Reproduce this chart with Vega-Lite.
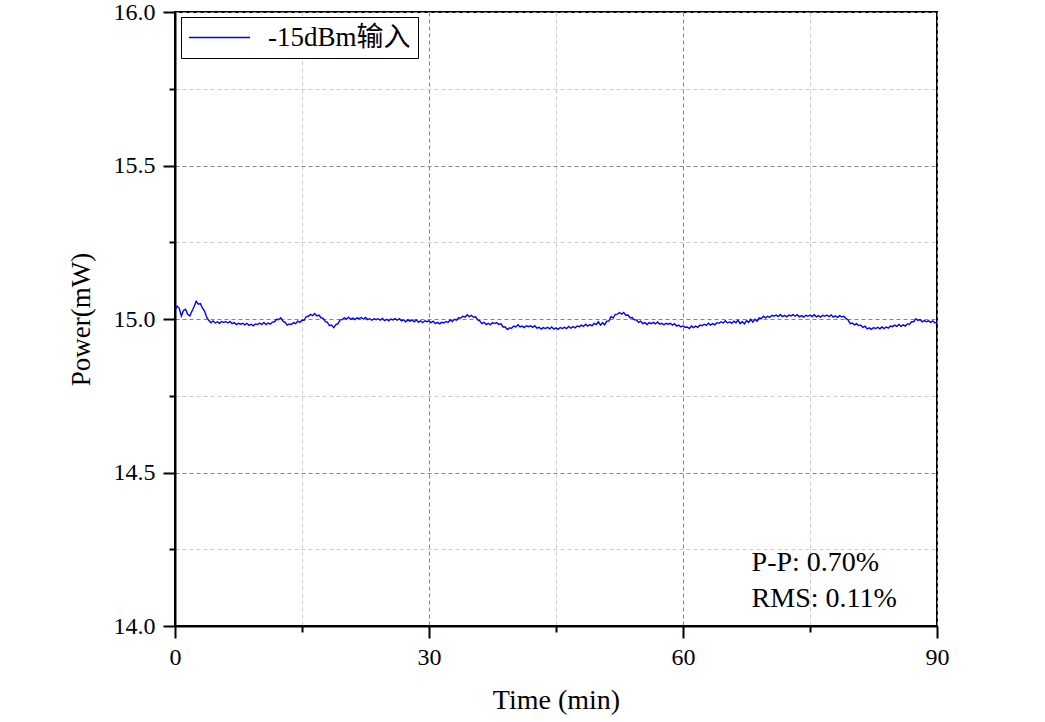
{
"$schema": "https://vega.github.io/schema/vega-lite/v6.json",
"width": 762, "height": 614,
"autosize": "none",
"padding": {"left": 175, "top": 12, "right": 108, "bottom": 96},
"background": "white",
"config": {
  "view": {"stroke": "black", "strokeWidth": 2},
  "font": "Liberation Serif, Noto Sans CJK SC",
  "axis": {"labelFont": "Liberation Serif", "titleFont": "Liberation Serif", "titleFontWeight": "normal", "labelColor": "black", "titleColor": "black", "domainColor": "black", "domainWidth": 2, "tickColor": "black", "tickWidth": 2, "gridWidth": 1, "labelFontSize": 24}
},
"layer": [
{
  "data": {"values": [
{"t":0,"p":15.030},{"t":0.25,"p":15.042},{"t":0.5,"p":15.035},{"t":0.75,"p":15.010},{"t":1,"p":15.028},{"t":1.25,"p":15.032},{"t":1.5,"p":15.015},{"t":1.75,"p":15.010},
{"t":2,"p":15.025},{"t":2.25,"p":15.040},{"t":2.5,"p":15.058},{"t":2.75,"p":15.048},{"t":3,"p":15.050},{"t":3.25,"p":15.035},{"t":3.5,"p":15.025},{"t":3.75,"p":15.005},
{"t":4,"p":14.995},{"t":4.25,"p":14.988},{"t":4.5,"p":14.994},{"t":4.75,"p":14.987},{"t":5,"p":14.991},{"t":5.25,"p":14.986},{"t":5.5,"p":14.992},{"t":5.75,"p":14.989},
{"t":6,"p":14.992},{"t":6.25,"p":14.987},{"t":6.5,"p":14.992},{"t":6.75,"p":14.985},{"t":7,"p":14.988},{"t":7.25,"p":14.982},{"t":7.5,"p":14.986},{"t":7.75,"p":14.983},
{"t":8,"p":14.986},{"t":8.25,"p":14.981},{"t":8.5,"p":14.986},{"t":8.75,"p":14.979},{"t":9,"p":14.983},{"t":9.25,"p":14.978},{"t":9.5,"p":14.984},{"t":9.75,"p":14.982},
{"t":10,"p":14.987},{"t":10.25,"p":14.982},{"t":10.5,"p":14.989},{"t":10.75,"p":14.982},{"t":11,"p":14.987},{"t":11.25,"p":14.983},{"t":11.5,"p":14.990},{"t":11.75,"p":14.991},
{"t":12,"p":14.999},{"t":12.25,"p":14.998},{"t":12.5,"p":15.004},{"t":12.75,"p":14.993},{"t":13,"p":14.989},{"t":13.25,"p":14.980},{"t":13.5,"p":14.984},{"t":13.75,"p":14.982},
{"t":14,"p":14.988},{"t":14.25,"p":14.985},{"t":14.5,"p":14.993},{"t":14.75,"p":14.989},{"t":15,"p":14.996},{"t":15.25,"p":14.996},{"t":15.5,"p":15.008},{"t":15.75,"p":15.009},
{"t":16,"p":15.015},{"t":16.25,"p":15.011},{"t":16.5,"p":15.018},{"t":16.75,"p":15.010},{"t":17,"p":15.013},{"t":17.25,"p":15.004},{"t":17.5,"p":15.002},{"t":17.75,"p":14.992},
{"t":18,"p":14.989},{"t":18.25,"p":14.978},{"t":18.5,"p":14.980},{"t":18.75,"p":14.972},{"t":19,"p":14.982},{"t":19.25,"p":14.985},{"t":19.5,"p":14.997},{"t":19.75,"p":14.998},
{"t":20,"p":15.004},{"t":20.25,"p":15.000},{"t":20.5,"p":15.006},{"t":20.75,"p":14.999},{"t":21,"p":15.003},{"t":21.25,"p":14.998},{"t":21.5,"p":15.004},{"t":21.75,"p":15.001},
{"t":22,"p":15.005},{"t":22.25,"p":15.000},{"t":22.5,"p":15.005},{"t":22.75,"p":14.998},{"t":23,"p":15.001},{"t":23.25,"p":14.996},{"t":23.5,"p":15.001},{"t":23.75,"p":14.998},
{"t":24,"p":15.001},{"t":24.25,"p":14.996},{"t":24.5,"p":15.002},{"t":24.75,"p":14.995},{"t":25,"p":14.999},{"t":25.25,"p":14.994},{"t":25.5,"p":15.000},{"t":25.75,"p":14.997},
{"t":26,"p":15.001},{"t":26.25,"p":14.996},{"t":26.5,"p":15.001},{"t":26.75,"p":14.994},{"t":27,"p":14.997},{"t":27.25,"p":14.991},{"t":27.5,"p":14.997},{"t":27.75,"p":14.993},
{"t":28,"p":14.997},{"t":28.25,"p":14.991},{"t":28.5,"p":14.997},{"t":28.75,"p":14.990},{"t":29,"p":14.994},{"t":29.25,"p":14.988},{"t":29.5,"p":14.994},{"t":29.75,"p":14.991},
{"t":30,"p":14.994},{"t":30.25,"p":14.988},{"t":30.5,"p":14.993},{"t":30.75,"p":14.985},{"t":31,"p":14.989},{"t":31.25,"p":14.984},{"t":31.5,"p":14.989},{"t":31.75,"p":14.987},
{"t":32,"p":14.992},{"t":32.25,"p":14.989},{"t":32.5,"p":14.997},{"t":32.75,"p":14.992},{"t":33,"p":14.999},{"t":33.25,"p":14.996},{"t":33.5,"p":15.004},{"t":33.75,"p":15.003},
{"t":34,"p":15.009},{"t":34.25,"p":15.006},{"t":34.5,"p":15.014},{"t":34.75,"p":15.008},{"t":35,"p":15.012},{"t":35.25,"p":15.006},{"t":35.5,"p":15.007},{"t":35.75,"p":14.997},
{"t":36,"p":14.994},{"t":36.25,"p":14.985},{"t":36.5,"p":14.989},{"t":36.75,"p":14.982},{"t":37,"p":14.986},{"t":37.25,"p":14.981},{"t":37.5,"p":14.988},{"t":37.75,"p":14.985},
{"t":38,"p":14.988},{"t":38.25,"p":14.982},{"t":38.5,"p":14.985},{"t":38.75,"p":14.974},{"t":39,"p":14.974},{"t":39.25,"p":14.966},{"t":39.5,"p":14.971},{"t":39.75,"p":14.970},
{"t":40,"p":14.977},{"t":40.25,"p":14.974},{"t":40.5,"p":14.981},{"t":40.75,"p":14.974},{"t":41,"p":14.977},{"t":41.25,"p":14.972},{"t":41.5,"p":14.978},{"t":41.75,"p":14.975},
{"t":42,"p":14.978},{"t":42.25,"p":14.973},{"t":42.5,"p":14.978},{"t":42.75,"p":14.970},{"t":43,"p":14.973},{"t":43.25,"p":14.967},{"t":43.5,"p":14.972},{"t":43.75,"p":14.969},
{"t":44,"p":14.973},{"t":44.25,"p":14.968},{"t":44.5,"p":14.974},{"t":44.75,"p":14.967},{"t":45,"p":14.971},{"t":45.25,"p":14.966},{"t":45.5,"p":14.972},{"t":45.75,"p":14.969},
{"t":46,"p":14.973},{"t":46.25,"p":14.969},{"t":46.5,"p":14.976},{"t":46.75,"p":14.970},{"t":47,"p":14.975},{"t":47.25,"p":14.971},{"t":47.5,"p":14.977},{"t":47.75,"p":14.975},
{"t":48,"p":14.980},{"t":48.25,"p":14.976},{"t":48.5,"p":14.983},{"t":48.75,"p":14.977},{"t":49,"p":14.982},{"t":49.25,"p":14.978},{"t":49.5,"p":14.986},{"t":49.75,"p":14.982},
{"t":50,"p":14.991},{"t":50.25,"p":14.980},{"t":50.5,"p":14.988},{"t":50.75,"p":14.981},{"t":51,"p":14.993},{"t":51.25,"p":14.993},{"t":51.5,"p":15.008},{"t":51.75,"p":15.003},
{"t":52,"p":15.015},{"t":52.25,"p":15.016},{"t":52.5,"p":15.021},{"t":52.75,"p":15.016},{"t":53,"p":15.021},{"t":53.25,"p":15.012},{"t":53.5,"p":15.013},{"t":53.75,"p":15.004},
{"t":54,"p":15.005},{"t":54.25,"p":14.997},{"t":54.5,"p":14.997},{"t":54.75,"p":14.989},{"t":55,"p":14.993},{"t":55.25,"p":14.985},{"t":55.5,"p":14.988},{"t":55.75,"p":14.982},
{"t":56,"p":14.988},{"t":56.25,"p":14.985},{"t":56.5,"p":14.989},{"t":56.75,"p":14.984},{"t":57,"p":14.990},{"t":57.25,"p":14.983},{"t":57.5,"p":14.986},{"t":57.75,"p":14.981},
{"t":58,"p":14.986},{"t":58.25,"p":14.983},{"t":58.5,"p":14.986},{"t":58.75,"p":14.980},{"t":59,"p":14.985},{"t":59.25,"p":14.977},{"t":59.5,"p":14.980},{"t":59.75,"p":14.974},
{"t":60,"p":14.978},{"t":60.25,"p":14.973},{"t":60.5,"p":14.974},{"t":60.75,"p":14.969},{"t":61,"p":14.977},{"t":61.25,"p":14.972},{"t":61.5,"p":14.977},{"t":61.75,"p":14.973},
{"t":62,"p":14.980},{"t":62.25,"p":14.978},{"t":62.5,"p":14.983},{"t":62.75,"p":14.979},{"t":63,"p":14.986},{"t":63.25,"p":14.980},{"t":63.5,"p":14.985},{"t":63.75,"p":14.981},
{"t":64,"p":14.988},{"t":64.25,"p":14.986},{"t":64.5,"p":14.991},{"t":64.75,"p":14.987},{"t":65,"p":14.994},{"t":65.25,"p":14.987},{"t":65.5,"p":14.991},{"t":65.75,"p":14.986},
{"t":66,"p":14.993},{"t":66.25,"p":14.988},{"t":66.5,"p":14.996},{"t":66.75,"p":14.985},{"t":67,"p":14.992},{"t":67.25,"p":14.984},{"t":67.5,"p":14.995},{"t":67.75,"p":14.989},
{"t":68,"p":14.999},{"t":68.25,"p":14.990},{"t":68.5,"p":14.999},{"t":68.75,"p":14.993},{"t":69,"p":15.004},{"t":69.25,"p":15.001},{"t":69.5,"p":15.009},{"t":69.75,"p":15.004},
{"t":70,"p":15.009},{"t":70.25,"p":15.005},{"t":70.5,"p":15.012},{"t":70.75,"p":15.009},{"t":71,"p":15.013},{"t":71.25,"p":15.008},{"t":71.5,"p":15.015},{"t":71.75,"p":15.008},
{"t":72,"p":15.012},{"t":72.25,"p":15.007},{"t":72.5,"p":15.013},{"t":72.75,"p":15.010},{"t":73,"p":15.014},{"t":73.25,"p":15.009},{"t":73.5,"p":15.014},{"t":73.75,"p":15.007},
{"t":74,"p":15.011},{"t":74.25,"p":15.006},{"t":74.5,"p":15.012},{"t":74.75,"p":15.009},{"t":75,"p":15.013},{"t":75.25,"p":15.008},{"t":75.5,"p":15.014},{"t":75.75,"p":15.007},
{"t":76,"p":15.011},{"t":76.25,"p":15.006},{"t":76.5,"p":15.012},{"t":76.75,"p":15.009},{"t":77,"p":15.013},{"t":77.25,"p":15.008},{"t":77.5,"p":15.013},{"t":77.75,"p":15.006},
{"t":78,"p":15.010},{"t":78.25,"p":15.005},{"t":78.5,"p":15.011},{"t":78.75,"p":15.007},{"t":79,"p":15.009},{"t":79.25,"p":15.001},{"t":79.5,"p":14.997},{"t":79.75,"p":14.985},
{"t":80,"p":14.987},{"t":80.25,"p":14.981},{"t":80.5,"p":14.985},{"t":80.75,"p":14.979},{"t":81,"p":14.980},{"t":81.25,"p":14.973},{"t":81.5,"p":14.977},{"t":81.75,"p":14.968},
{"t":82,"p":14.971},{"t":82.25,"p":14.966},{"t":82.5,"p":14.972},{"t":82.75,"p":14.969},{"t":83,"p":14.973},{"t":83.25,"p":14.968},{"t":83.5,"p":14.974},{"t":83.75,"p":14.969},
{"t":84,"p":14.974},{"t":84.25,"p":14.970},{"t":84.5,"p":14.977},{"t":84.75,"p":14.975},{"t":85,"p":14.980},{"t":85.25,"p":14.976},{"t":85.5,"p":14.982},{"t":85.75,"p":14.976},
{"t":86,"p":14.981},{"t":86.25,"p":14.977},{"t":86.5,"p":14.984},{"t":86.75,"p":14.983},{"t":87,"p":14.991},{"t":87.25,"p":14.991},{"t":87.5,"p":15.001},{"t":87.75,"p":14.995},
{"t":88,"p":14.998},{"t":88.25,"p":14.991},{"t":88.5,"p":14.995},{"t":88.75,"p":14.991},{"t":89,"p":14.994},{"t":89.25,"p":14.989},{"t":89.5,"p":14.994},{"t":89.75,"p":14.987},
{"t":90,"p":14.991}
  ]},
  "mark": {"type": "line", "strokeWidth": 1.4, "clip": true},
  "encoding": {
    "x": {"field": "t", "type": "quantitative", "scale": {"domain": [0, 90], "nice": false, "zero": false},
      "axis": {"title": "Time (min)", "values": [0, 15, 30, 45, 60, 75, 90],
        "labelExpr": "datum.value % 30 === 0 ? datum.label : ''",
        "tickSize": {"condition": {"test": "datum.value % 30 === 0", "value": 12}, "value": 6},
        "gridColor": {"condition": {"test": "datum.value % 30 === 0", "value": "#858585"}, "value": "#cccccc"},
        "gridDash": [4, 3],
        "labelFontSize": 24, "labelPadding": 7, "titleFontSize": 28, "titlePadding": 17, "labelFlush": false}},
    "y": {"field": "p", "type": "quantitative", "scale": {"domain": [14, 16], "nice": false, "zero": false},
      "axis": {"title": "Power(mW)", "values": [14, 14.25, 14.5, 14.75, 15, 15.25, 15.5, 15.75, 16],
        "format": ".1f",
        "labelExpr": "abs(datum.value*2 - round(datum.value*2)) < 0.01 ? datum.label : ''",
        "tickSize": {"condition": {"test": "abs(datum.value*2 - round(datum.value*2)) < 0.01", "value": 12}, "value": 6},
        "gridColor": {"condition": {"test": "abs(datum.value*2 - round(datum.value*2)) < 0.01", "value": "#858585"}, "value": "#cccccc"},
        "gridDash": [4, 3],
        "labelFontSize": 24, "labelPadding": 8, "titleFontSize": 27, "titlePadding": 18, "labelFlush": false}},
    "color": {"datum": "-15dBm输入", "type": "nominal", "scale": {"range": ["#0000ff"]},
      "legend": {"title": null, "orient": "none", "legendX": 6, "legendY": 5, "symbolType": "stroke", "symbolSize": 3721, "symbolStrokeWidth": 1.5,
        "symbolStrokeColor": "#0000ff",
        "clipHeight": 27,
        "labelFontSize": 27, "labelFont": "Liberation Serif, Noto Sans CJK SC", "labelColor": "black", "labelOffset": 17, "labelLimit": 400,
        "strokeColor": "black", "fillColor": "white", "padding": 7}}
  }
},
{
  "data": {"values": [
    {"label": "P-P: 0.70%", "t": 68.1, "p": 14.205},
    {"label": "RMS: 0.11%", "t": 68.1, "p": 14.088}
  ]},
  "mark": {"type": "text", "align": "left", "baseline": "middle", "fontSize": 28, "font": "Liberation Serif", "color": "black"},
  "encoding": {
    "x": {"field": "t", "type": "quantitative"},
    "y": {"field": "p", "type": "quantitative"},
    "text": {"field": "label"}
  }
}
]
}
